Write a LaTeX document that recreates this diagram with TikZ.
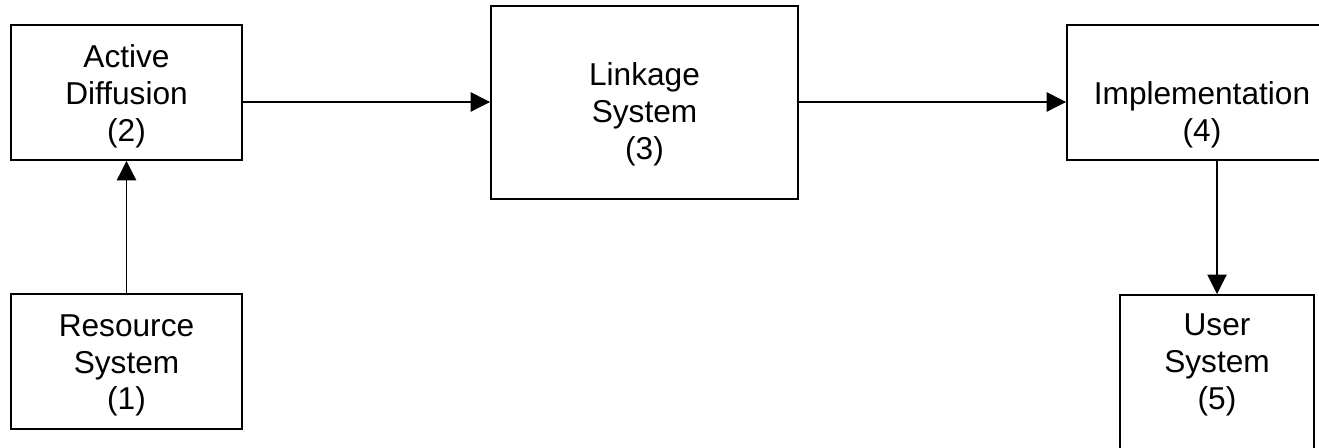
\documentclass[tikz,border=0pt]{standalone}
\usepackage{fontspec}
\setmainfont{Liberation Sans}
\usetikzlibrary{arrows.meta}
\begin{document}
\begin{tikzpicture}[x=0.02cm, y=-0.02cm,
    blk/.style={draw, line width=1.1pt, inner sep=0pt},
    txt/.style={align=center, inner sep=0pt, font=\fontsize{18}{21}\selectfont},
    arr/.style={line width=0.6pt, -{Triangle[length=11pt, width=11pt]}}]

        \useasboundingbox (0, 0) rectangle (1319, 448);
        \clip (0, 0) rectangle (1319, 448);

        \node[blk, minimum width=4.62cm, minimum height=2.7cm] (diff) at (126.5, 92.5) {};
        \node[blk, minimum width=4.62cm, minimum height=2.7cm] (res) at (126.5, 361.5) {};
        \node[blk, minimum width=6.14cm, minimum height=3.86cm] (link) at (644.5, 102.5) {};
        \node[blk, minimum width=5.4cm, minimum height=2.7cm] (impl) at (1202, 92.5) {};
        \node[blk, minimum width=3.88cm, minimum height=3.6cm, anchor=north] (user) at (1217, 294) {};

        \node[txt] (difftxt) at ([yshift=-0.08cm]diff.center) {Active\\Diffusion\\(2)};
        \node[txt] (restxt) at ([yshift=-0.08cm]res.center) {Resource\\System\\(1)};
        \node[txt] (linktxt) at ([yshift=-0.23cm]link.center) {Linkage\\System\\(3)};
        \node[txt] (impltxt) at ([yshift=-0.45cm]impl.center) {Implementation\\(4)};
        \node[txt] (usertxt) at ([yshift=-1.42cm]user.north) {User\\System\\(5)};

        \coordinate (a1) at ([yshift=-0.19cm]diff.east);
        \coordinate (a2) at ([yshift=0.01cm]link.east);

        \draw[arr] (res.north) -- (diff.south);
        \draw[arr] (a1) -- (a1 -| link.west);
        \draw[arr] (a2) -- (a2 -| impl.west);
        \draw[arr] (impl.south -| user.north) -- (user.north);

      \end{tikzpicture}
\end{document}
